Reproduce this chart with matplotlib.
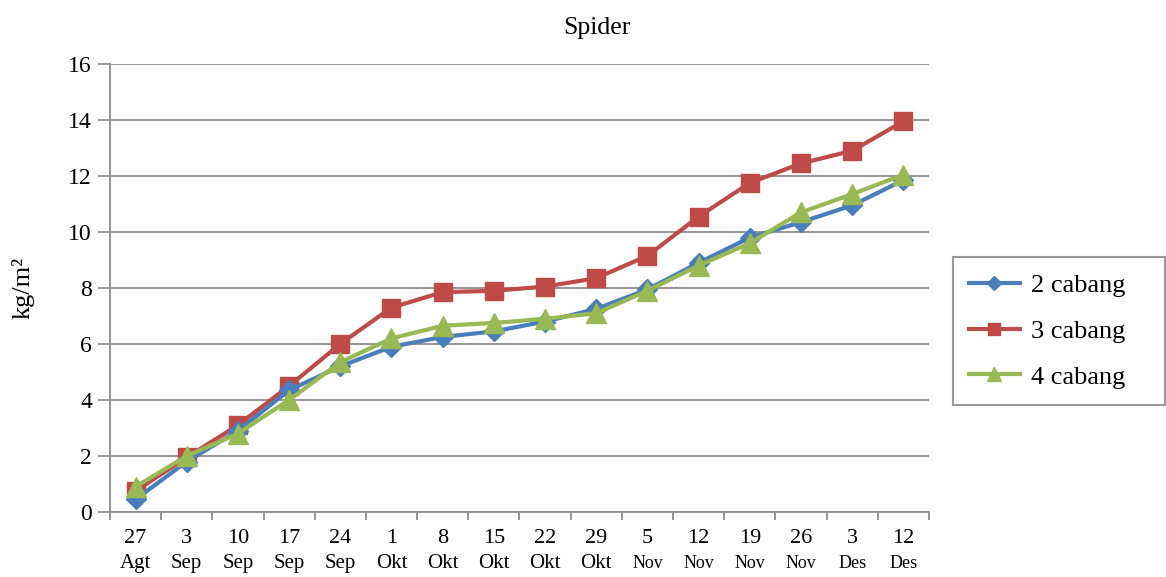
import numpy as np
import matplotlib
matplotlib.use("Agg")
import matplotlib.pyplot as plt
from matplotlib.transforms import blended_transform_factory

plt.rcParams['font.family'] = ['Liberation Serif', 'DejaVu Serif']

# tanggal pengamatan
hari = ["27", "3", "10", "17", "24", "1", "8", "15", "22", "29",
        "5", "12", "19", "26", "3", "12"]
bulan = ["Agt", "Sep", "Sep", "Sep", "Sep", "Okt", "Okt", "Okt", "Okt", "Okt",
         "Nov", "Nov", "Nov", "Nov", "Des", "Des"]

# produksi (kg/m2) per jumlah cabang
cabang2 = [0.45, 1.8, 2.9, 4.35, 5.2, 5.9, 6.25, 6.45, 6.8, 7.25,
           7.95, 8.9, 9.8, 10.35, 10.95, 11.85]
cabang3 = [0.75, 1.95, 3.1, 4.5, 6.0, 7.3, 7.85, 7.9, 8.05, 8.35,
           9.15, 10.55, 11.75, 12.45, 12.9, 13.95]
cabang4 = [0.9, 2.0, 2.8, 4.0, 5.35, 6.2, 6.65, 6.75, 6.9, 7.1,
           7.9, 8.8, 9.6, 10.7, 11.35, 12.05]

warna = {"2 cabang": "#4a7ebb", "3 cabang": "#be4b48", "4 cabang": "#98b954"}
abu = "#8c8c8c"

fig = plt.figure(figsize=(11.66, 5.77), dpi=100)
ax = fig.add_axes([0.0943, 0.1127, 0.7024, 0.7764])

x = np.arange(len(hari))
ax.plot(x, cabang2, color=warna["2 cabang"], lw=3, marker="D", ms=10,
        label="2 cabang", zorder=3)
ax.plot(x, cabang3, color=warna["3 cabang"], lw=3, marker="s", ms=13,
        label="3 cabang", zorder=2)
ax.plot(x, cabang4, color=warna["4 cabang"], lw=3, marker="^", ms=14,
        label="4 cabang", zorder=4)

ax.set_xlim(-0.5, len(hari) - 0.5)
ax.set_ylim(0, 16)
ax.set_yticks(np.arange(0, 17, 2))
ax.yaxis.grid(True, color=abu, lw=1.3)
ax.set_axisbelow(True)

# garis tick di antara kategori, label di tengah
ax.set_xticks(np.arange(len(hari) + 1) - 0.5)
ax.set_xticklabels([])
ax.set_xticks(x, minor=True)
ax.set_xticklabels(hari, minor=True, fontsize=16)
ax.tick_params(axis="x", which="major", length=6, color=abu, width=1.3)
ax.tick_params(axis="x", which="minor", length=0, pad=12)
ax.tick_params(axis="y", length=9, color=abu, width=1.3, labelsize=17, pad=4)

trans = blended_transform_factory(ax.transData, ax.transAxes)
for i, b in enumerate(bulan):
    ukuran = 13 if b in ("Nov", "Des") else 15
    ax.text(i, -0.125, b, transform=trans, ha="center", va="baseline",
            fontsize=ukuran)

for s in ["top", "right"]:
    ax.spines[s].set_visible(False)
for s in ["left", "bottom"]:
    ax.spines[s].set_color(abu)
    ax.spines[s].set_linewidth(1.3)

ax.set_ylabel("kg/m²", fontsize=19, labelpad=24)
fig.text(597 / 1166, 1 - 28 / 577, "Spider", ha="center", va="center",
         fontsize=18.5)

leg = fig.legend(loc="upper left",
                 bbox_to_anchor=(953 / 1166, 1 - 257 / 577, 212 / 1166, 0),
                 mode="expand", borderaxespad=0,
                 fontsize=19, handlelength=1.9, handletextpad=0.45,
                 labelspacing=0.85, borderpad=0.62, fancybox=False,
                 markerscale=0.7)
leg.get_frame().set_edgecolor("#7f7f7f")
leg.get_frame().set_linewidth(1.5)

fig.savefig("out.png", dpi=100)
